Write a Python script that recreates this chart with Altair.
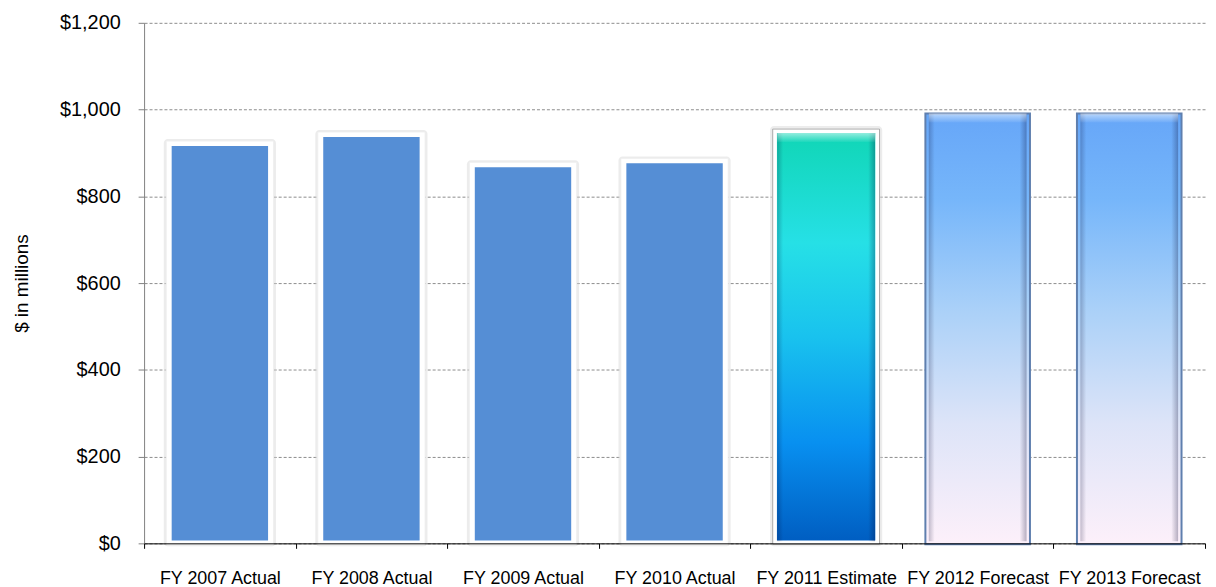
import altair as alt
import pandas as pd

categories = ["FY 2007 Actual", "FY 2008 Actual", "FY 2009 Actual", "FY 2010 Actual",
              "FY 2011 Estimate", "FY 2012 Forecast", "FY 2013 Forecast"]
values = [916, 937, 867, 876, 946, 991, 991]
kinds = ["actual", "actual", "actual", "actual", "estimate", "forecast", "forecast"]

df = pd.DataFrame({"category": categories, "value": values, "kind": kinds})

FONT = "Liberation Sans, Arial, sans-serif"

x_enc = alt.X("category:N", sort=categories, title=None,
              scale=alt.Scale(paddingInner=0, paddingOuter=0),
              axis=alt.Axis(labelAngle=0, labelFontSize=18, labelColor="#000", labelFont=FONT,
                            tickBand="extent", tickSize=5, tickColor="#000", domainColor="#000",
                            labelPadding=21, zindex=1, grid=False))
y_enc = alt.Y("value:Q", title="$ in millions",
              scale=alt.Scale(domain=[0, 1200], nice=False),
              axis=alt.Axis(values=[0, 200, 400, 600, 800, 1000, 1200], format="$,.0f",
                            labelFontSize=20, labelColor="#000", labelFont=FONT,
                            labelPadding=18, tickSize=6, tickColor="#808080",
                            domainColor="#808080", gridColor="#8c8c8c", gridDash=[3, 2],
                            gridWidth=1, titleFontSize=19, titleFont=FONT,
                            titleFontWeight="normal", titleColor="#000",
                            titleX=-123, titleY=262, titleAngle=-90,
                            titleBaseline="middle", titleAlign="center"))

base = alt.Chart(df).encode(x=x_enc, y=y_enc, y2=alt.datum(0))

framed = base.transform_filter(alt.FieldOneOfPredicate(field="kind", oneOf=["actual", "estimate"]))

shadow = framed.mark_bar(fill="#d4d4d4", opacity=0.45, width=alt.RelativeBandSize(0.74),
                         yOffset=-7, y2Offset=3, cornerRadius=4)
frame = framed.mark_bar(fill="#ffffff", stroke="#ededed", strokeWidth=0.8,
                        width=alt.RelativeBandSize(0.708), yOffset=-5, y2Offset=2)

actual = base.transform_filter(alt.datum.kind == "actual").mark_bar(
    fill="#558ed5", width=alt.RelativeBandSize(0.636), y2Offset=-3)

est_grad = {"gradient": "linear", "x1": 0, "y1": 0, "x2": 0, "y2": 1,
            "stops": [{"offset": 0, "color": "#10d6b6"},
                      {"offset": 0.27, "color": "#26e0e6"},
                      {"offset": 0.5, "color": "#19c2ee"},
                      {"offset": 0.76, "color": "#0890f0"},
                      {"offset": 1, "color": "#005ec2"}]}
est_frame = base.transform_filter(alt.datum.kind == "estimate").mark_bar(
    fill="#ffffff", stroke="#a8a8a8", strokeWidth=1,
    width=alt.RelativeBandSize(0.705), yOffset=-4, y2Offset=1)
estimate = base.transform_filter(alt.datum.kind == "estimate").mark_bar(
    fill=est_grad, width=alt.RelativeBandSize(0.649), y2Offset=-3)

fc_grad = {"gradient": "linear", "x1": 0, "y1": 0, "x2": 0, "y2": 1,
           "stops": [{"offset": 0, "color": "#66a6f8"},
                     {"offset": 0.2, "color": "#76b6fa"},
                     {"offset": 0.45, "color": "#a9d0f8"},
                     {"offset": 0.72, "color": "#dde4f8"},
                     {"offset": 1, "color": "#fdf0fa"}]}
forecast = base.transform_filter(alt.datum.kind == "forecast").mark_bar(
    fill=fc_grad, stroke="#5f7fae", strokeWidth=2, width=alt.RelativeBandSize(0.69),
    y2Offset=1)

bevel_data = base.transform_filter(alt.FieldOneOfPredicate(field="kind", oneOf=["estimate", "forecast"]))
side_grad = {"gradient": "linear", "x1": 0, "y1": 0, "x2": 1, "y2": 0,
             "stops": [{"offset": 0, "color": "rgba(0,0,40,0.22)"},
                       {"offset": 0.06, "color": "rgba(0,0,40,0)"},
                       {"offset": 0.93, "color": "rgba(0,0,40,0)"},
                       {"offset": 1, "color": "rgba(0,0,40,0.28)"}]}
sides = bevel_data.mark_bar(fill=side_grad, width=alt.RelativeBandSize(0.645), y2Offset=-2)
top_grad = {"gradient": "linear", "x1": 0, "y1": 0, "x2": 0, "y2": 1,
            "stops": [{"offset": 0, "color": "rgba(255,255,255,0.55)"},
                      {"offset": 1, "color": "rgba(255,255,255,0.05)"}]}
top_hl = bevel_data.mark_bar(fill=top_grad, width=alt.RelativeBandSize(0.645), y2Offset=9).encode(
    y2=alt.Y2("value:Q"))

chart = alt.layer(shadow, frame, actual, est_frame, estimate, forecast, sides, top_hl).properties(
    width=1068, height=524, autosize="none",
    padding={"left": 137, "top": 13, "right": 3, "bottom": 42},
).configure_view(stroke=None)

chart.save("out.html", embed_options={"renderer": "svg", "actions": False})
